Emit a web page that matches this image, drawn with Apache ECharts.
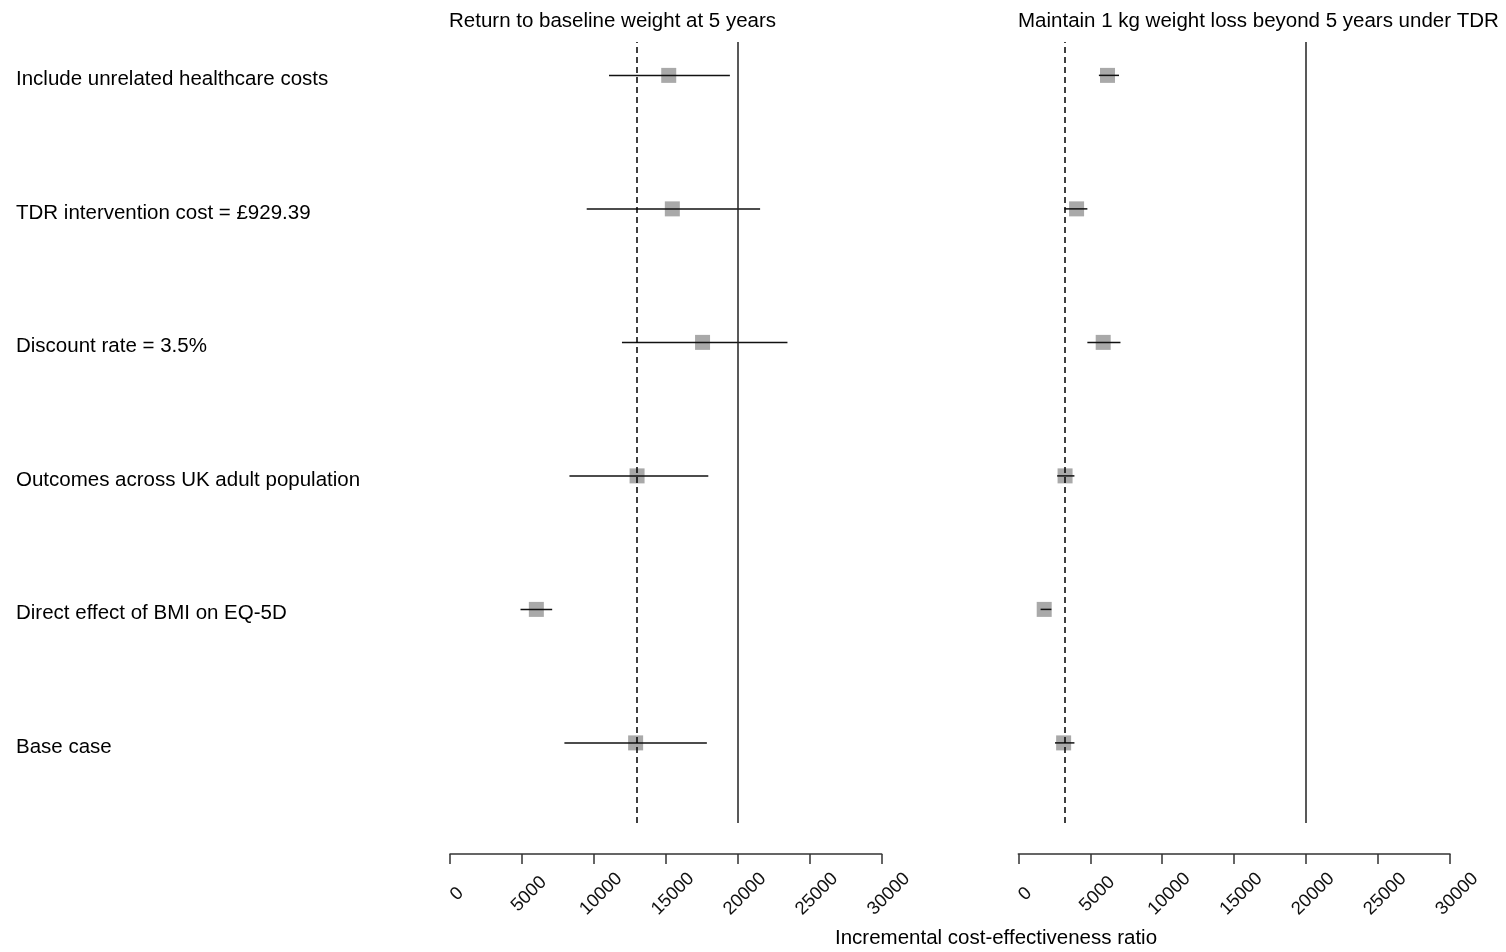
<!DOCTYPE html>
<html><head><meta charset="utf-8">
<script src="https://cdn.jsdelivr.net/npm/echarts@6/dist/echarts.min.js"></script>
<style>html,body{margin:0;padding:0;background:#fff}#c{width:1506px;height:952px}</style>
</head><body><div id="c"></div>
<script>
// Rows listed bottom (1) to top (6)
const categories = [
  "Base case",
  "Direct effect of BMI on EQ-5D",
  "Outcomes across UK adult population",
  "Discount rate = 3.5%",
  "TDR intervention cost = £929.39",
  "Include unrelated healthcare costs"
];
const panelTitles = [
  "Return to baseline weight at 5 years",
  "Maintain 1 kg weight loss beyond 5 years under TDR"
];
const axisTitle = "Incremental cost-effectiveness ratio";

// Panel 1: Return to baseline weight at 5 years
const leftEst  = [12900, 6000, 13000, 17550, 15450, 15200];
const leftLow  = [7950, 4900, 8300, 11950, 9500, 11050];
const leftHigh = [17850, 7100, 17950, 23450, 21550, 19450];
// Panel 2: Maintain 1 kg weight loss
const rightEst  = [3150, 1800, 3250, 5900, 4050, 6200];
const rightLow  = [2550, 1550, 2700, 4800, 3200, 5600];
const rightHigh = [3900, 2300, 3900, 7100, 4800, 7000];

const leftBaseRef = 12950;
const rightBaseRef = 3200;
const threshold = 20000;
const xTicks = [0, 5000, 10000, 15000, 20000, 25000, 30000];

const FONT = "'Liberation Sans', Arial, sans-serif";

function rows(est, lo, hi) {
  return est.map((e, i) => [lo[i], hi[i], e, i + 1]);
}

function renderItem(params, api) {
  const y = api.value(3);
  const a = api.coord([api.value(0), y]);
  const b = api.coord([api.value(1), y]);
  const c = api.coord([api.value(2), y]);
  const s = 15;
  return {
    type: 'group',
    children: [
      { type: 'rect', shape: { x: c[0] - s / 2, y: c[1] - s / 2, width: s, height: s }, style: { fill: '#a9a9a9' } },
      { type: 'line', shape: { x1: a[0], y1: a[1], x2: b[0], y2: b[1] }, style: { stroke: '#111', lineWidth: 1.5 } }
    ]
  };
}

function xAxis(gi) {
  return {
    type: 'value', gridIndex: gi, min: xTicks[0], max: xTicks[xTicks.length - 1], interval: 5000,
    position: 'bottom', offset: 31,
    axisLine: { show: true, lineStyle: { color: '#333', width: 1.5 } },
    axisTick: { show: true, length: 10, lineStyle: { color: '#333', width: 1.5 } },
    splitLine: { show: false },
    axisLabel: {
      rotate: 45, align: 'center', verticalAlign: 'middle', margin: 40,
      formatter: v => '{t|' + String(v) + '}',
      rich: { t: { padding: [10, 0, 0, 10], fontSize: 18.5, fontFamily: FONT, color: '#111' } },
      fontSize: 18.5, fontFamily: FONT, color: '#111'
    }
  };
}

function markLines(ref) {
  return {
    symbol: 'none', silent: true, label: { show: false },
    data: [
      { xAxis: ref, lineStyle: { type: [6, 4], color: '#000', width: 1.5 } },
      { xAxis: threshold, lineStyle: { type: 'solid', color: '#222', width: 1.5 } }
    ]
  };
}

const titleStyle = { fontSize: 20.5, fontWeight: 'normal', color: '#000', fontFamily: FONT };
const chart = echarts.init(document.getElementById('c'));
chart.setOption({
  animation: false,
  backgroundColor: '#fff',
  title: [
    { text: panelTitles[0], left: 449, top: 11, padding: 0, textStyle: titleStyle },
    { text: panelTitles[1], left: 1018, top: 11, padding: 0, textStyle: titleStyle },
    { text: axisTitle, left: 835, top: 928, padding: 0, textStyle: titleStyle }
  ],
  grid: [
    { left: 450, width: 431.7, top: 42, height: 781 },
    { left: 1018.3, width: 431.7, top: 42, height: 781 }
  ],
  xAxis: [xAxis(0), xAxis(1)],
  yAxis: [
    {
      type: 'value', gridIndex: 0, min: 0.4, max: 6.25,
      axisLine: { show: false }, axisTick: { show: false }, splitLine: { show: false },
      axisLabel: {
        customValues: [1, 2, 3, 4, 5, 6],
        formatter: v => '{c|' + (categories[Math.round(v) - 1] || '') + '}',
        rich: { c: { padding: [8, 0, 0, 0], fontSize: 20.5, fontFamily: FONT, color: '#000' } },
        align: 'left', margin: 434, fontSize: 20.5, fontFamily: FONT, color: '#000'
      }
    },
    {
      type: 'value', gridIndex: 1, min: 0.4, max: 6.25, show: false,
      axisLine: { show: false }, axisTick: { show: false }, splitLine: { show: false }, axisLabel: { show: false }
    }
  ],
  series: [
    {
      type: 'custom', xAxisIndex: 0, yAxisIndex: 0, renderItem,
      encode: { x: [0, 1, 2], y: 3 },
      data: rows(leftEst, leftLow, leftHigh),
      markLine: markLines(leftBaseRef), z: 3
    },
    {
      type: 'custom', xAxisIndex: 1, yAxisIndex: 1, renderItem,
      encode: { x: [0, 1, 2], y: 3 },
      data: rows(rightEst, rightLow, rightHigh),
      markLine: markLines(rightBaseRef), z: 3
    }
  ]
});
</script>
</body></html>
